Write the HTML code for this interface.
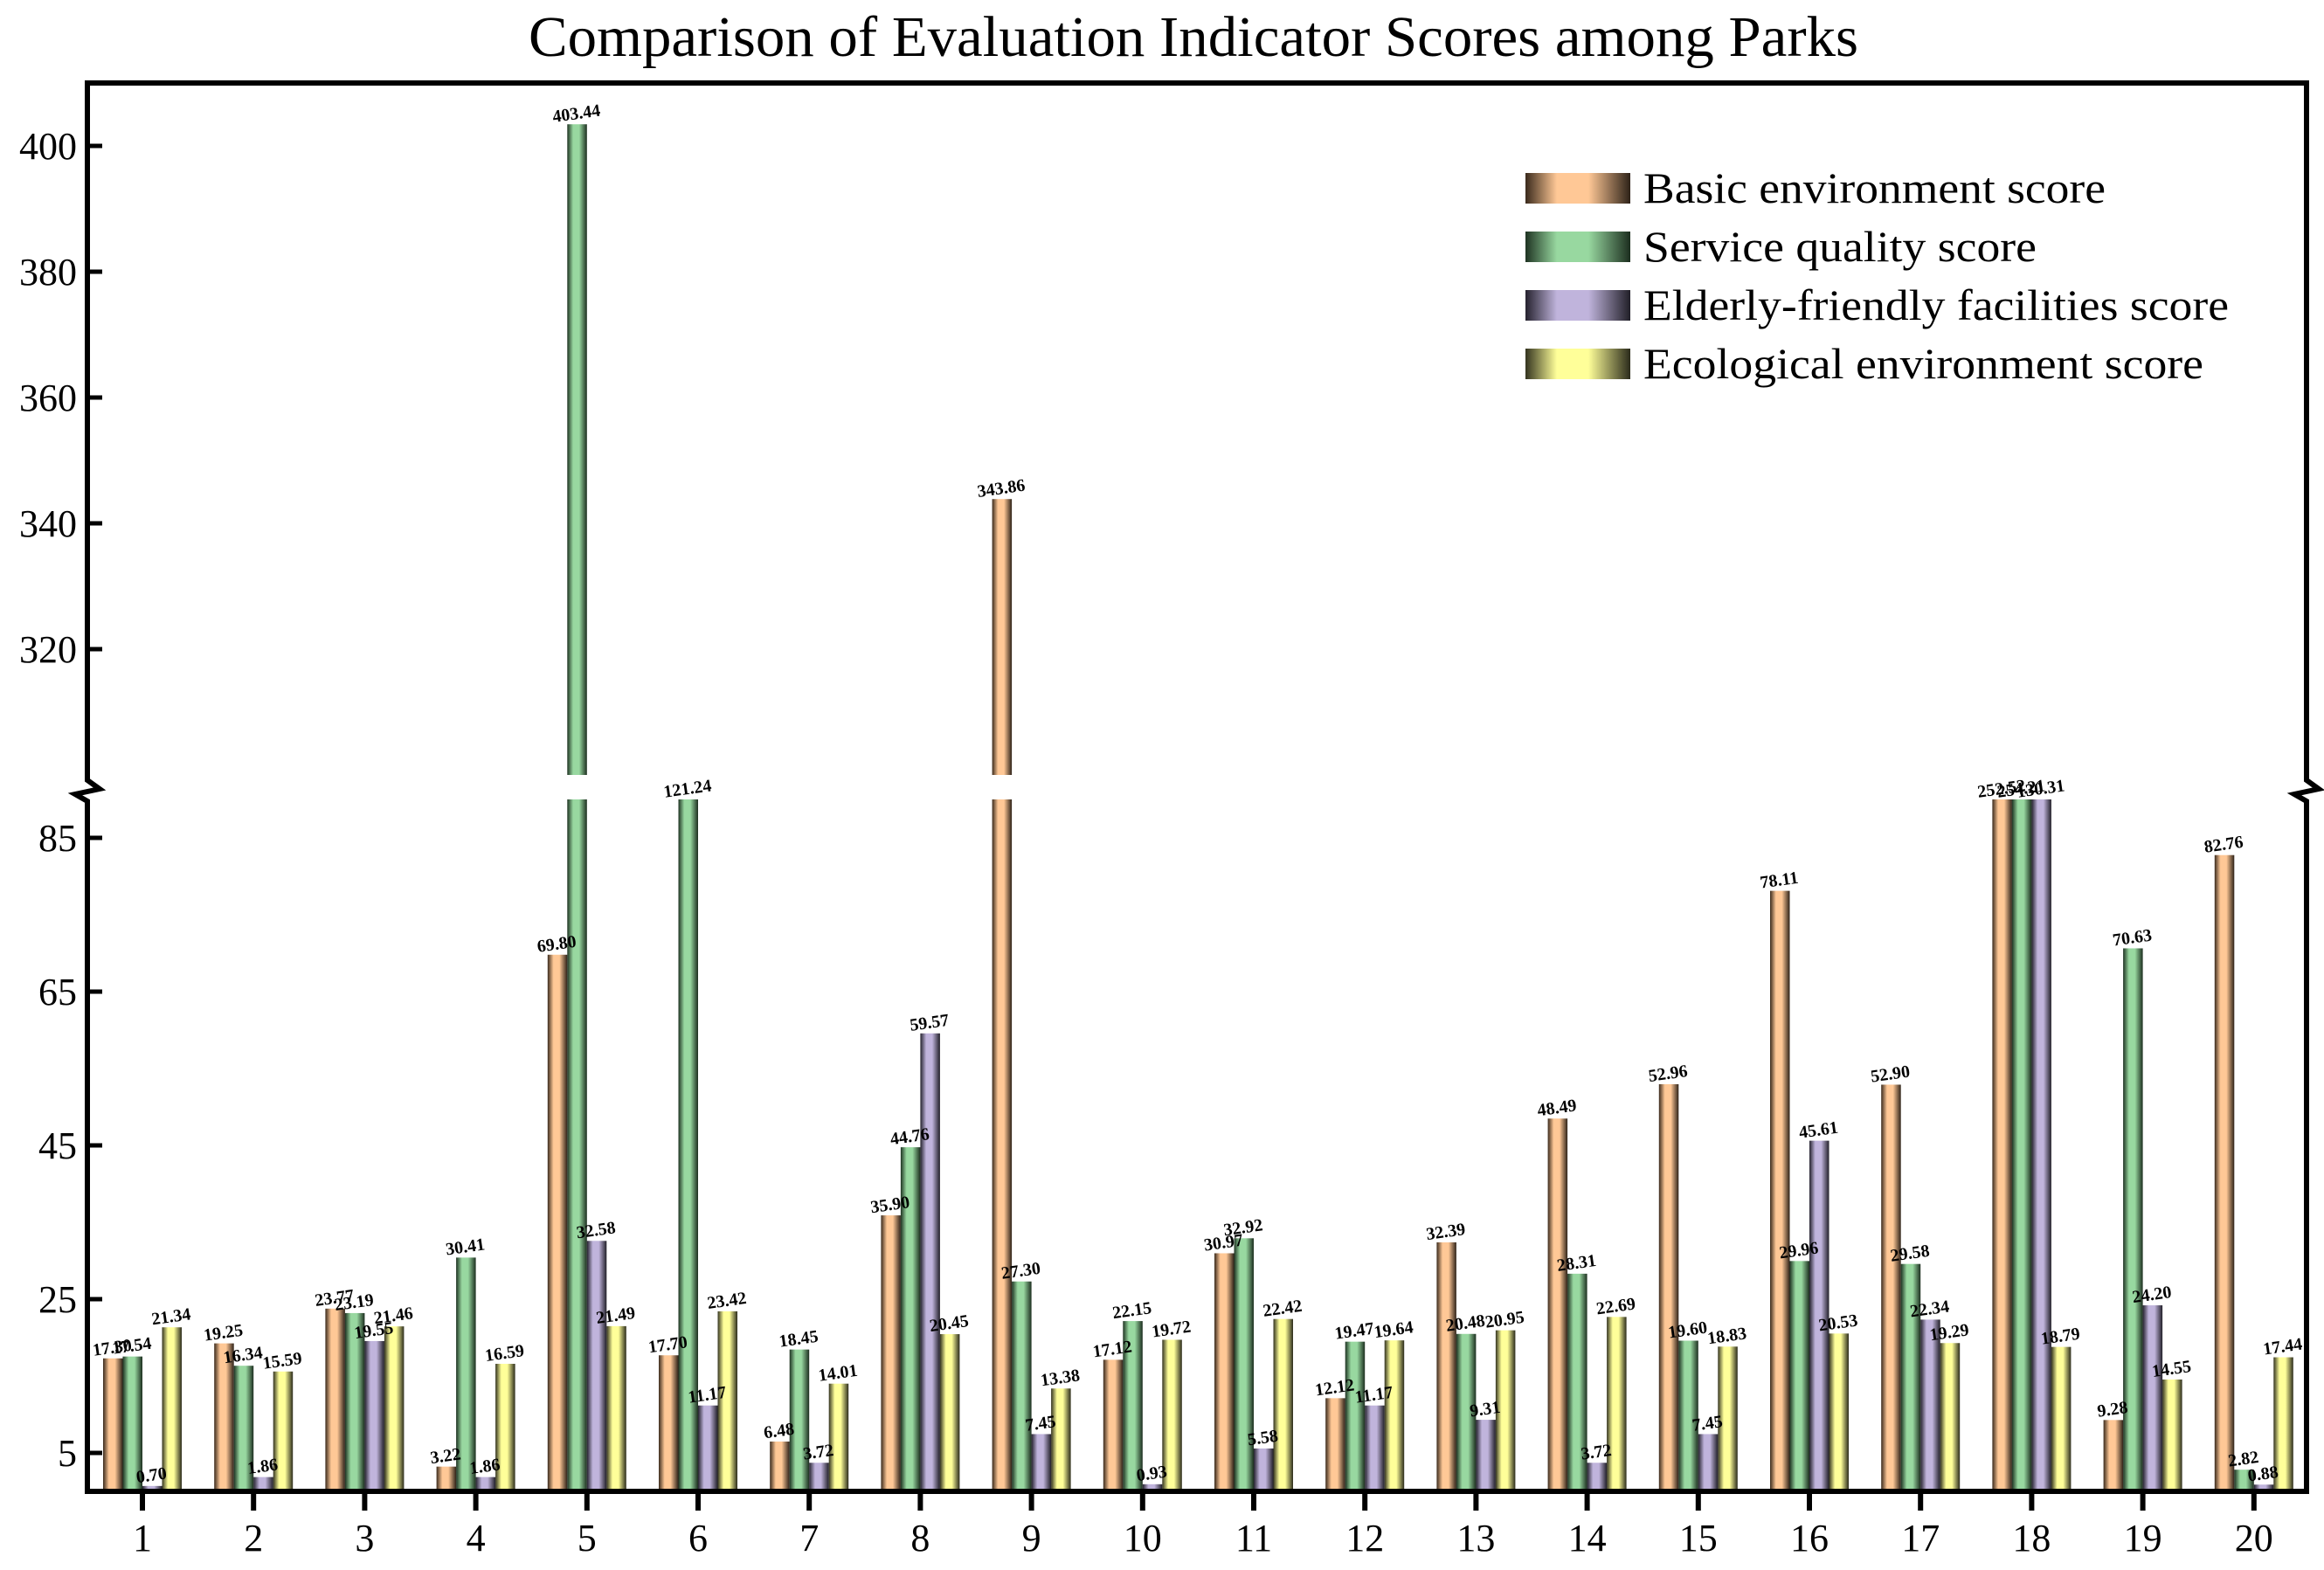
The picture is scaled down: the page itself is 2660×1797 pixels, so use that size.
<!DOCTYPE html>
<html><head><meta charset="utf-8"><style>html,body{margin:0;padding:0;background:#fff}svg{display:block}</style></head>
<body>
<svg id="chart" width="2660" height="1797" viewBox="0 0 2660 1797" xmlns="http://www.w3.org/2000/svg" font-family="'Liberation Serif', serif">
<defs>
<linearGradient id="g0" x1="0" x2="1" y1="0" y2="0"><stop offset="0" stop-color="#3a2a1c"/><stop offset="0.3" stop-color="#ffc896"/><stop offset="0.6" stop-color="#ffc896"/><stop offset="1" stop-color="#2e2218"/></linearGradient>
<linearGradient id="g1" x1="0" x2="1" y1="0" y2="0"><stop offset="0" stop-color="#1e3322"/><stop offset="0.3" stop-color="#98d8a0"/><stop offset="0.6" stop-color="#98d8a0"/><stop offset="1" stop-color="#1c2e1f"/></linearGradient>
<linearGradient id="g2" x1="0" x2="1" y1="0" y2="0"><stop offset="0" stop-color="#25222e"/><stop offset="0.3" stop-color="#c0b4dc"/><stop offset="0.6" stop-color="#c0b4dc"/><stop offset="1" stop-color="#211f28"/></linearGradient>
<linearGradient id="g3" x1="0" x2="1" y1="0" y2="0"><stop offset="0" stop-color="#33331f"/><stop offset="0.3" stop-color="#ffff99"/><stop offset="0.6" stop-color="#ffff99"/><stop offset="1" stop-color="#2b2b1b"/></linearGradient>
</defs>
<text x="1366" y="64" font-size="66" text-anchor="middle" textLength="1522" lengthAdjust="spacingAndGlyphs">Comparison of Evaluation Indicator Scores among Parks</text>
<g id="bars"></g>
<g id="labels"></g>
<g id="axes"></g>
<g id="legend"></g>
</svg>
<script>
const categories = ["1","2","3","4","5","6","7","8","9","10","11","12","13","14","15","16","17","18","19","20"];
const seriesNames = ["Basic environment score","Service quality score","Elderly-friendly facilities score","Ecological environment score"];
const basic = [17.30,19.25,23.77,3.22,69.80,17.70,6.48,35.90,343.86,17.12,30.97,12.12,32.39,48.49,52.96,78.11,52.90,252.52,9.28,82.76];
const service = [17.54,16.34,23.19,30.41,403.44,121.24,18.45,44.76,27.30,22.15,32.92,19.47,20.48,28.31,19.60,29.96,29.58,254.21,70.63,2.82];
const elderly = [0.70,1.86,19.55,1.86,32.58,11.17,3.72,59.57,7.45,0.93,5.58,11.17,9.31,3.72,7.45,45.61,22.34,130.31,24.20,0.88];
const ecological = [21.34,15.59,21.46,16.59,21.49,23.42,14.01,20.45,13.38,19.72,22.42,19.64,20.95,22.69,18.83,20.53,19.29,18.79,14.55,17.44];
const lowerTicks = [5,25,45,65,85];
const upperTicks = [320,340,360,380,400];
const lowerMax = 90, upperMin = 300;

const NS = "http://www.w3.org/2000/svg";
const L=100, R=2640, T=95, B=1707;
function yLow(v){ return B - Math.min(v,lowerMax)*8.8; }
function yUp(v){ return 167 - (v-400)*7.2; }
function xGroup(i){ return 163 + i*127.2; }
const bw=22.5;
function mk(tag, attrs, parent){ const e=document.createElementNS(NS,tag); for(const k in attrs) e.setAttribute(k,attrs[k]); parent.appendChild(e); return e; }
const gBars=document.getElementById('bars'), gLab=document.getElementById('labels'), gAx=document.getElementById('axes'), gLeg=document.getElementById('legend');
const series=[basic,service,elderly,ecological];
const slug=["basic","service","elderly","ecological"];
series.forEach((arr,s)=>{
  arr.forEach((v,i)=>{
    const x = xGroup(i) - 2*bw + s*bw;
    const r = mk('rect',{x:x,y:yLow(v),width:bw,height:B-yLow(v),fill:`url(#g${s})`},gBars);
    
    
    let ty = yLow(v);
    if(v>upperMin){
      const r2 = mk('rect',{x:x,y:yUp(v),width:bw,height:887-yUp(v),fill:`url(#g${s})`},gBars);
      
      
      ty = yUp(v);
    }
    const cx = x+bw/2, cy = ty-6;
    const t = mk('text',{x:cx,y:cy,'font-size':20,'font-weight':'bold','text-anchor':'middle',transform:`rotate(-8 ${cx} ${cy})`},gLab);
    t.textContent = v.toFixed(2);
    
    
  });
});
const path = `M${L},${T} L${R},${T} L${R},893 l14,10 l-28,6 l14,8 L${R},${B} L${L},${B} L${L},917 l-14,-8 l28,-6 l-14,-10 Z`;
const fr = mk('path',{d:path,fill:'none',stroke:'#000','stroke-width':6,'stroke-linejoin':'miter'},gAx);


lowerTicks.forEach(v=>{
  const y=yLow(v);
  mk('line',{x1:L,x2:L+17,y1:y,y2:y,stroke:'#000','stroke-width':5},gAx);
  const t=mk('text',{x:L-12,y:y+15,'font-size':44,'text-anchor':'end'},gAx);
  t.textContent=v;
  
  
});
upperTicks.forEach(v=>{
  const y=yUp(v);
  mk('line',{x1:L,x2:L+17,y1:y,y2:y,stroke:'#000','stroke-width':5},gAx);
  const t=mk('text',{x:L-12,y:y+15,'font-size':44,'text-anchor':'end'},gAx);
  t.textContent=v;
  
  
});
categories.forEach((c,i)=>{
  const x=xGroup(i);
  mk('line',{x1:x,x2:x,y1:B,y2:B+22,stroke:'#000','stroke-width':6},gAx);
  const t=mk('text',{x:x,y:B+68,'font-size':44,'text-anchor':'middle'},gAx);
  t.textContent=c;
  
  
});
const legendWidths=[529,450,670,641];
seriesNames.forEach((n,s)=>{
  const y=198+s*67;
  const sw=mk('rect',{x:1746,y:y,width:120,height:35,fill:`url(#g${s})`},gLeg);
  
  
  const t=mk('text',{x:1881,y:y+34,'font-size':50,textLength:legendWidths[s],lengthAdjust:'spacingAndGlyphs'},gLeg);
  t.textContent=n;
  
  
});
</script>
</body></html>
